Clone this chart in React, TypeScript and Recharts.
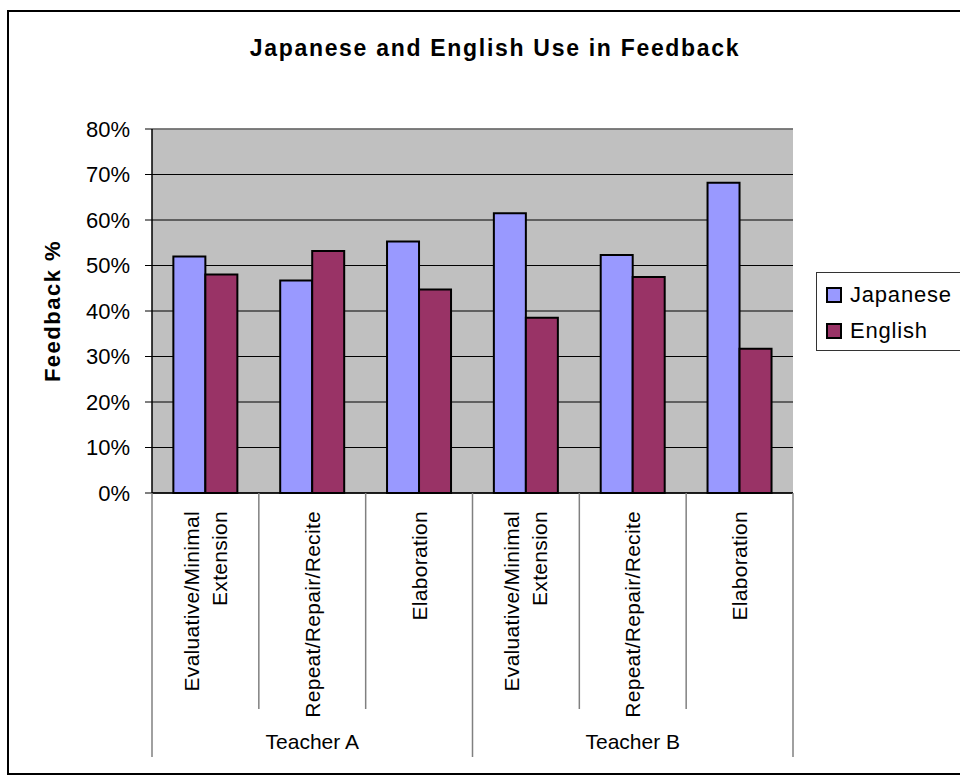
import React from "react";
import {
  BarChart,
  Bar,
  XAxis,
  YAxis,
  CartesianGrid,
  Legend,
  ReferenceLine,
} from "recharts";

const categories = [
  "Evaluative/Minimal Extension",
  "Repeat/Repair/Recite",
  "Elaboration",
  "Evaluative/Minimal Extension",
  "Repeat/Repair/Recite",
  "Elaboration",
];
const teachers = ["Teacher A", "Teacher A", "Teacher A", "Teacher B", "Teacher B", "Teacher B"];
const japanese = [52.0, 46.7, 55.3, 61.5, 52.3, 68.2];
const english = [48.0, 53.2, 44.7, 38.5, 47.5, 31.7];
const yTicks = [0, 10, 20, 30, 40, 50, 60, 70, 80];
const seriesOrder = ["Japanese", "English"];

const FONT = '"Liberation Sans", Arial, sans-serif';
const W = 960;
const H = 776;
const MARGIN = { top: 129, right: 167, left: 0, bottom: 0 };
const Y_AXIS_W = 152;
const X_AXIS_H = 283;
const CAT_W = (W - MARGIN.left - MARGIN.right - Y_AXIS_W) / categories.length;

const data = categories.map((c, i) => ({
  category: c,
  teacher: teachers[i],
  Japanese: japanese[i],
  English: english[i],
}));

// category labels + the two-level Excel style separators
function CategoryTick(props: any) {
  const { x, y, payload, index } = props;
  const lines = String(payload.value).split(" ");
  const lineH = 28;
  const first = index === 0 || teachers[index] !== teachers[index - 1];
  const last = index === teachers.length - 1;
  const out: React.ReactNode[] = [];

  const left = x - CAT_W / 2;
  out.push(
    <line key="l" x1={left} x2={left} y1={y} y2={y + (first ? 264 : 216)} stroke="#808080" strokeWidth={1.5} />
  );
  if (last) {
    const right = x + CAT_W / 2;
    out.push(<line key="r" x1={right} x2={right} y1={y} y2={y + 264} stroke="#808080" strokeWidth={1.5} />);
  }

  lines.forEach((ln, i) => {
    const lx = x + (i - (lines.length - 1) / 2) * lineH;
    const ly = y + 18;
    out.push(
      <text
        key={"t" + i}
        x={lx}
        y={ly}
        transform={`rotate(-90 ${lx} ${ly})`}
        textAnchor="end"
        dominantBaseline="central"
        fontSize={21}
        fontFamily={FONT}
        fill="#000"
        letterSpacing={0.3}
      >
        {ln}
      </text>
    );
  });

  if (first) {
    let n = 1;
    while (teachers[index + n] === teachers[index]) n++;
    const gx = x + ((n - 1) / 2) * CAT_W;
    out.push(
      <text key="g" x={gx} y={y + 248} textAnchor="middle" dominantBaseline="central" fontSize={21} fontFamily={FONT} fill="#000">
        {teachers[index]}
      </text>
    );
  }
  return <g>{out}</g>;
}

function LegendBox(props: any) {
  const items = [...(props.payload || [])].sort(
    (a: any, b: any) => seriesOrder.indexOf(a.value) - seriesOrder.indexOf(b.value)
  );
  return (
    <div
      style={{
        border: "1px solid #333",
        width: 160,
        height: 79,
        boxSizing: "border-box",
        paddingTop: 4,
        background: "#fff",
      }}
    >
      {items.map((it: any) => (
        <div key={it.value} style={{ display: "flex", alignItems: "center", height: 36, paddingLeft: 9 }}>
          <span
            style={{
              width: 12,
              height: 12,
              background: it.color,
              border: "2px solid #000",
              marginRight: 8,
            }}
          />
          <span style={{ fontSize: 22, fontFamily: FONT, color: "#000", letterSpacing: 0.8 }}>{it.value}</span>
        </div>
      ))}
    </div>
  );
}

export default function App() {
  return (
    <div style={{ position: "absolute", left: 0, top: 0, width: W, height: H, overflow: "hidden", background: "#fff" }}>
      <div
        style={{
          position: "absolute",
          left: 7,
          top: 10,
          width: 1000,
          height: 761,
          border: "2px solid #000",
        }}
      />
      <div
        style={{
          position: "absolute",
          left: 0,
          width: 990,
          top: 35,
          textAlign: "center",
          fontFamily: FONT,
          fontWeight: "bold",
          fontSize: 23,
          letterSpacing: 1.7,
          color: "#000",
        }}
      >
        Japanese and English Use in Feedback
      </div>
      <div style={{ position: "absolute", left: 0, top: 0 }}>
        <BarChart width={W} height={H} data={data} margin={MARGIN} barCategoryGap="20%" barGap={0}>
          <CartesianGrid vertical={false} stroke="#000" fill="#c0c0c0" fillOpacity={1} />
          <XAxis
            dataKey="category"
            height={X_AXIS_H}
            interval={0}
            tickLine={false}
            tickSize={0}
            tickMargin={0}
            axisLine={{ stroke: "#000", strokeWidth: 1.5 }}
            tick={<CategoryTick />}
          />
          <YAxis
            width={Y_AXIS_W}
            domain={[0, 80]}
            ticks={yTicks}
            tickFormatter={(v: number) => `${v}%`}
            tick={{ fill: "#000", fontSize: 22, fontFamily: FONT }}
            tickLine={{ stroke: "#000" }}
            tickSize={7}
            tickMargin={15}
            axisLine={{ stroke: "#000", strokeWidth: 1.5 }}
            label={{
              content: (p: any) => {
                const vb = p.viewBox || { x: 0, y: 0, height: 0 };
                const cx = vb.x + 52;
                const cy = vb.y + vb.height / 2;
                return (
                  <text
                    x={cx}
                    y={cy}
                    transform={`rotate(-90 ${cx} ${cy})`}
                    textAnchor="middle"
                    dominantBaseline="central"
                    fontSize={22}
                    fontWeight="bold"
                    fontFamily={FONT}
                    letterSpacing={1.5}
                    fill="#000"
                  >
                    Feedback %
                  </text>
                );
              },
            }}
          />
          <YAxis yAxisId="frame" orientation="right" width={0} tick={false} tickLine={false} axisLine={{ stroke: "#808080", strokeWidth: 1.5 }} />
          <ReferenceLine y={80} stroke="#808080" strokeWidth={1.5} />
          <Legend
            layout="vertical"
            align="center"
            verticalAlign="middle"
            content={<LegendBox />}
            wrapperStyle={{ left: 816, top: 272, width: 160 }}
          />
          <Bar dataKey="Japanese" fill="#9999ff" stroke="#000" strokeWidth={2} isAnimationActive={false} />
          <Bar dataKey="English" fill="#993366" stroke="#000" strokeWidth={2} isAnimationActive={false} />
        </BarChart>
      </div>
    </div>
  );
}
